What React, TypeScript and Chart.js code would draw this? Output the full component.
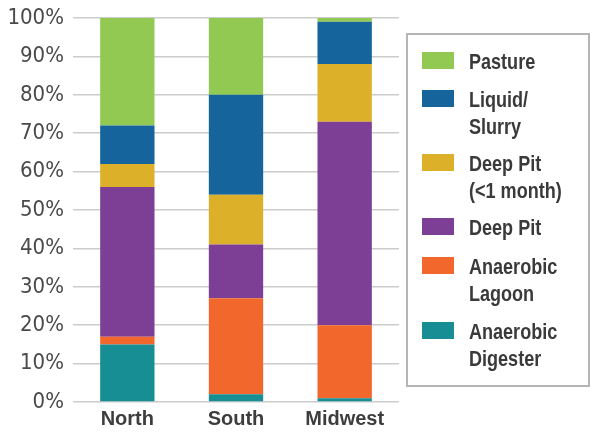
import React, { useEffect, useRef } from "react";
import { Chart, registerables } from "chart.js";

Chart.register(...registerables);

const categories = ["North", "South", "Midwest"];
const anaerobicDigester = [15, 2, 1];
const anaerobicLagoon = [2, 25, 19];
const deepPit = [39, 14, 53];
const deepPitShort = [6, 13, 15];
const liquidSlurry = [10, 26, 11];
const pasture = [28, 20, 1];
const yTicks = [0, 10, 20, 30, 40, 50, 60, 70, 80, 90, 100];

const seriesNames = ["Anaerobic Digester", "Anaerobic Lagoon", "Deep Pit", "Deep Pit (<1 month)", "Liquid/ Slurry", "Pasture"];
const seriesColors = ["#168e94", "#f2672c", "#7d3f96", "#dcb029", "#15649b", "#92c953"];
const seriesValues = [anaerobicDigester, anaerobicLagoon, deepPit, deepPitShort, liquidSlurry, pasture];

// legend entries (top to bottom) with their line breaks
const legendLines = [
  ["Pasture"],
  ["Liquid/", "Slurry"],
  ["Deep Pit", "(<1 month)"],
  ["Deep Pit"],
  ["Anaerobic", "Lagoon"],
  ["Anaerobic", "Digester"],
];
const legendColors = ["#92c953", "#15649b", "#dcb029", "#7d3f96", "#f2672c", "#168e94"];
const legendTops = [52, 90, 154, 218, 257, 322];

export default function App() {
  const ref = useRef<HTMLCanvasElement | null>(null);
  useEffect(() => {
    if (!ref.current) return;
    const chart = new Chart(ref.current, {
      type: "bar",
      data: {
        labels: categories,
        datasets: seriesValues.map((vals, i) => ({
          label: seriesNames[i],
          data: vals,
          backgroundColor: seriesColors[i],
          borderWidth: 0,
          barPercentage: 0.5,
          categoryPercentage: 1,
        })),
      },
      options: {
        animation: false,
        responsive: false,
        devicePixelRatio: 1,
        layout: { padding: { top: 18, right: 192, left: 0, bottom: 0 } },
        plugins: { legend: { display: false }, tooltip: { enabled: false } },
        scales: {
          x: {
            stacked: true,
            grid: { display: false, drawTicks: false },
            border: { display: false },
            ticks: {
              padding: 5,
              color: "#3d3d3d",
              font: { family: "'Liberation Sans', sans-serif", size: 20, weight: "bold" },
            },
            afterFit: (s: any) => { s.height = 30; },
          },
          y: {
            stacked: true,
            min: 0,
            max: 100,
            afterBuildTicks: (s: any) => { s.ticks = yTicks.map((v) => ({ value: v })); },
            grid: { color: "#cccccc", lineWidth: 1.5, drawTicks: false },
            border: { display: false },
            ticks: {
              padding: 9,
              color: "#4a4a4a",
              font: { family: "'DejaVu Sans Condensed', sans-serif", size: 22, lineHeight: 0.8 },
              callback: (v: any) => v + "%",
            },
            afterFit: (s: any) => { s.width = 73; },
          },
        },
      },
    });
    return () => chart.destroy();
  }, []);

  return (
    <div style={{ position: "fixed", left: 0, top: 0, width: 591, height: 432, background: "#fff" }}>
      <canvas ref={ref} width={591} height={432} style={{ position: "absolute", left: 0, top: 0, width: 591, height: 432 }} />
      <div style={{ position: "absolute", left: 406, top: 33, width: 184, height: 354, border: "2px solid #b5b5b5", boxSizing: "border-box" }} />
      {legendLines.map((lines, i) => (
        <div key={i}>
          <div style={{ position: "absolute", left: 422, top: legendTops[i], width: 32, height: 17, background: legendColors[i] }} />
          <div style={{ position: "absolute", left: 469, top: legendTops[i] - 4, fontFamily: "'Liberation Sans', sans-serif", fontWeight: "bold", fontSize: 22, lineHeight: "27px", color: "#3a3a3a", whiteSpace: "nowrap", transform: "scaleX(0.82)", transformOrigin: "left top" }}>
            {lines.map((l, j) => (<div key={j}>{l}</div>))}
          </div>
        </div>
      ))}
    </div>
  );
}
